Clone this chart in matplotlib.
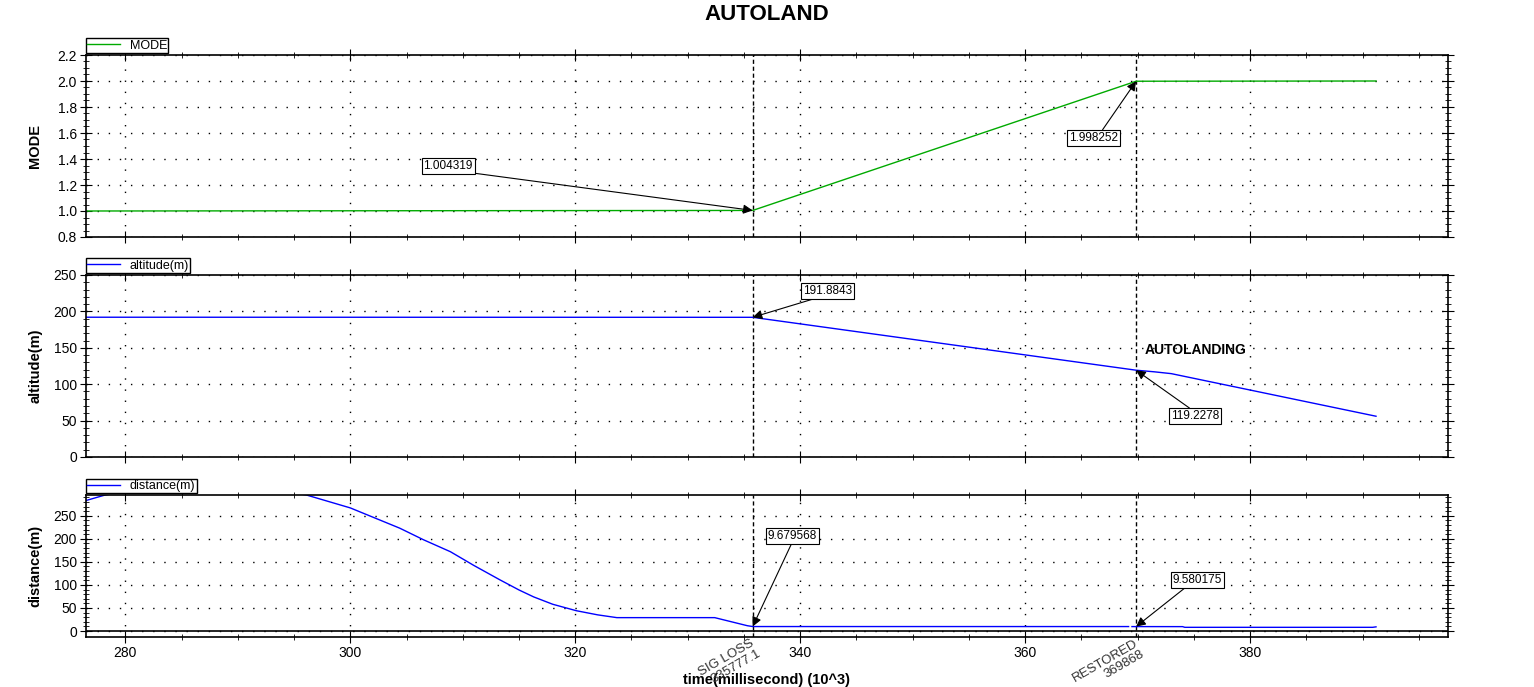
import matplotlib
matplotlib.use("Agg")
import matplotlib.pyplot as plt
import numpy as np

plt.rcParams['font.family'] = ['Liberation Sans', 'DejaVu Sans']

# ---- data (time in 10^3 ms) ----
t_sig_loss = 335.7771
t_restored = 369.868

mode_t = [276.5, 335.7771, 369.868, 391.2]
mode_v = [1.0, 1.004319, 1.998252, 2.0]

alt_t = [276.5, 335.7771, 369.868, 371.5, 373.0, 391.2]
alt_v = [192.0, 191.8843, 119.2278, 117.0, 114.5, 56.0]

dist_t = [276.5, 278.2, 283.0, 287.0, 291.0, 296.1, 300.0, 302.0, 304.4, 306.5,
          308.9, 311.0, 313.3, 315.0, 316.3, 318.0, 320.1, 322.0, 323.7, 332.4,
          335.3, 335.7771, 369.2, 369.3, 369.5, 369.868, 374.0, 374.2, 390.9, 391.2]
dist_v = [283, 295, 315, 322, 315, 295, 267, 247, 223, 198,
          172, 142, 111, 89, 74, 58, 44, 35, 29, 29,
          11.5, 9.679568, 9.65, np.nan, 9.6, 9.580175, 9.5, 8.0, 8.0, 9.0]

xmin, xmax = 276.5, 397.6
xticks = [280, 300, 320, 340, 360, 380]

W, H = 1534, 687
fig = plt.figure(figsize=(W / 100, H / 100), dpi=100)

def rect(x0, y0, x1, y1):
    return [x0 / W, 1 - y1 / H, (x1 - x0) / W, (y1 - y0) / H]

ax1 = fig.add_axes(rect(86, 55, 1448, 237))
ax2 = fig.add_axes(rect(86, 275, 1448, 457))
ax3 = fig.add_axes(rect(86, 495, 1448, 637))

box = dict(boxstyle='square,pad=0.15', fc='white', ec='black', lw=0.8)
arrow = dict(arrowstyle='-|>', color='black', lw=0.8, mutation_scale=14,
             shrinkA=0, shrinkB=0)

for ax in (ax1, ax2, ax3):
    ax.set_xlim(xmin, xmax)
    ax.set_xticks(xticks)
    ax.set_xticks(np.arange(280, 400, 5), minor=True)
    ax.grid(True, which='major', color='black', linestyle=(0, (1, 7)), lw=1)
    ax.tick_params(which='both', direction='inout', top=True, right=True,
                   labelsize=10, pad=2)
    ax.tick_params(which='major', length=9)
    ax.tick_params(which='minor', length=5)
    ax.axvline(t_sig_loss, color='black', ls=(0, (3, 2)), lw=1)
    ax.axvline(t_restored, color='black', ls=(0, (3, 2)), lw=1)
    for s in ax.spines.values():
        s.set_linewidth(1.2)

# ---- MODE ----
ax1.plot(mode_t, mode_v, color='#00aa00', lw=1, label='MODE')
ax1.set_ylim(0.8, 2.2)
ax1.set_yticks(np.arange(0.8, 2.21, 0.2))
ax1.set_yticks(np.arange(0.8, 2.21, 0.05), minor=True)
ax1.set_ylabel('MODE', fontsize=10.5, fontweight='bold')
ax1.tick_params(labelbottom=False)
ax1.annotate('1.004319', xy=(t_sig_loss, mode_v[1]), xytext=(308.7, 1.346),
             fontsize=8.5, ha='center', va='center', bbox=box,
             arrowprops=dict(arrow, relpos=(0.85, 0.0)))
ax1.annotate('1.998252', xy=(t_restored, mode_v[2]), xytext=(366.1, 1.562),
             fontsize=8.5, ha='center', va='center', bbox=box,
             arrowprops=dict(arrow, relpos=(0.65, 1.0)))

# ---- altitude ----
ax2.plot(alt_t, alt_v, color='#0000ff', lw=1, label='altitude(m)')
ax2.set_ylim(0, 250)
ax2.set_yticks(np.arange(0, 251, 50))
ax2.set_yticks(np.arange(0, 251, 10), minor=True)
ax2.set_ylabel('altitude(m)', fontsize=10.5, fontweight='bold')
ax2.tick_params(labelbottom=False)
ax2.annotate('191.8843', xy=(t_sig_loss, alt_v[1]), xytext=(342.4, 228),
             fontsize=8.5, ha='center', va='center', bbox=box,
             arrowprops=dict(arrow, relpos=(0.35, 0.0)))
ax2.annotate('119.2278', xy=(t_restored, alt_v[2]), xytext=(375.1, 56),
             fontsize=8.5, ha='center', va='center', bbox=box,
             arrowprops=dict(arrow, relpos=(0.45, 1.0)))
ax2.text(370.6, 147, 'AUTOLANDING', fontsize=10, fontweight='bold',
         ha='left', va='center')

# ---- distance ----
ax3.plot(dist_t, dist_v, color='#0000ff', lw=1, label='distance(m)')
ax3.axhline(0, color='black', lw=1.2)
ax3.set_ylim(-13, 295)
ax3.set_yticks(np.arange(0, 251, 50))
ax3.set_yticks(np.arange(0, 291, 10), minor=True)
ax3.set_ylabel('distance(m)', fontsize=10.5, fontweight='bold')
ax3.annotate('9.679568', xy=(t_sig_loss, dist_v[21]), xytext=(339.3, 206),
             fontsize=8.5, ha='center', va='center', bbox=box,
             arrowprops=dict(arrow, relpos=(0.5, 0.0)))
ax3.annotate('9.580175', xy=(t_restored, dist_v[25]), xytext=(375.3, 110.6),
             fontsize=8.5, ha='center', va='center', bbox=box,
             arrowprops=dict(arrow, relpos=(0.3, 0.0)))
ax3.set_xlabel('time(millisecond) (10^3)', fontsize=10.5, fontweight='bold',
               labelpad=9)
ax3.text(t_sig_loss - 0.2, -14, 'SIG LOSS\n335777.1', fontsize=9.5, color='#333333',
         rotation=30, rotation_mode='anchor', ha='right', va='top',
         multialignment='right', linespacing=1.0, zorder=5)
ax3.text(t_restored - 0.2, -14, 'RESTORED\n369868', fontsize=9.5, color='#333333',
         rotation=30, rotation_mode='anchor', ha='right', va='top',
         multialignment='right', linespacing=1.0, zorder=5)

for ax in (ax1, ax2, ax3):
    ax.yaxis.set_label_coords(-0.032, 0.5)
    leg = ax.legend(loc='lower left', bbox_to_anchor=(0, 1.012), fontsize=9,
                    frameon=True, fancybox=False, edgecolor='black',
                    framealpha=1, borderpad=0.1, borderaxespad=0,
                    handlelength=2.6, handletextpad=0.8)
    leg.get_frame().set_linewidth(1.0)

fig.text(0.5, 1 - 14 / H, 'AUTOLAND', fontsize=16, fontweight='bold',
         ha='center', va='center')

fig.savefig('out.png', dpi=100)
